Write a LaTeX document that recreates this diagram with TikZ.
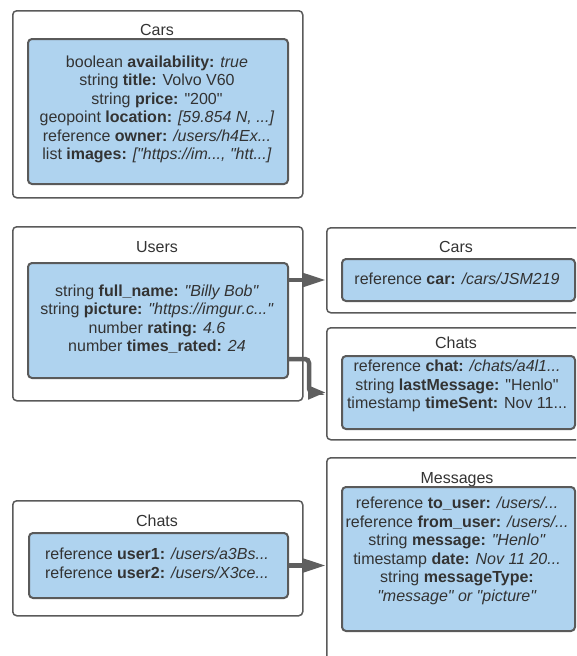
\documentclass[tikz,border=0pt]{standalone}
\usepackage{fontspec}
\setmainfont{Liberation Sans}[Ligatures=TeXOff]
\usetikzlibrary{arrows.meta}
\definecolor{boxline}{HTML}{5A5A5A}
\definecolor{bluefill}{HTML}{AFD3EF}
\definecolor{txt}{HTML}{333333}
\definecolor{arrowc}{HTML}{5F5F5F}
\begin{document}
\begin{tikzpicture}[x=1pt,y=-1pt,
  outerbox/.style={draw=boxline, line width=1.5pt, rounded corners=4pt, fill=white, anchor=north west, inner sep=0pt},
  innerbox/.style={draw=boxline, line width=2pt, rounded corners=4pt, fill=bluefill, anchor=north west, inner sep=0pt},
  boxtitle/.style={text=txt, font=\fontsize{16}{19}\selectfont, inner sep=0pt, text height=11.5pt, text depth=0pt},
  body/.style={text=txt, font=\fontsize{16}{18.5}\selectfont, align=center, inner sep=0pt},
  arr/.style={draw=arrowc, line width=4.5pt, -{Triangle[length=23pt,width=13pt]}},
  arrb/.style={draw=arrowc, line width=4.5pt, rounded corners=4pt, -{Triangle[length=18pt,width=13pt]}}]
\useasboundingbox (0,0) rectangle (576,656);
\begin{scope}
\clip (0,0) rectangle (576,656);
% --- Cars (top) ---
\node[outerbox, minimum width=290pt, minimum height=187pt] (carsOuter) at (12,10) {};
\node[boxtitle] (carsTitle) at (157,30) {Cars};
\node[innerbox, minimum width=260pt, minimum height=145pt] (carsBox) at (27,38) {};
\node[body] (carsText) at (157,109.5) {boolean \textbf{availability:} \textit{true}\\
string \textbf{title:} Volvo V60\\
string \textbf{price:} "200"\\
geopoint \textbf{location:} \textit{[59.854 N, ...]}\\
reference \textbf{owner:} \textit{/users/h4Ex...}\\
list \textbf{images:} \textit{["https://im..., "htt...]}};
% --- Users ---
\node[outerbox, minimum width=290pt, minimum height=174pt] (usersOuter) at (12,226) {};
\node[boxtitle] (usersTitle) at (157,247) {Users};
\node[innerbox, minimum width=260pt, minimum height=115pt] (usersBox) at (27,262) {};
\node[body] (usersText) at (157,319) {string \textbf{full\_name:} \textit{"Billy Bob"}\\
string \textbf{picture:} \textit{"https://imgur.c..."}\\
number \textbf{rating:} \textit{4.6}\\
number \textbf{times\_rated:} \textit{24}};
% --- Cars (reference) ---
\node[outerbox, minimum width=264pt, minimum height=85pt] (carRefOuter) at (326,227) {};
\node[boxtitle] (carRefTitle) at (456,247) {Cars};
\node[innerbox, minimum width=233pt, minimum height=42pt] (carRefBox) at (341,258) {};
\node[body] (carRefText) at (457,279) {reference \textbf{car:} \textit{/cars/JSM219}};
% --- Chats (reference) ---
\node[outerbox, minimum width=264pt, minimum height=112pt] (chatRefOuter) at (326,327) {};
\node[boxtitle] (chatRefTitle) at (456,343) {Chats};
\node[innerbox, minimum width=233pt, minimum height=73pt] (chatRefBox) at (341,355) {};
\node[body] (chatRefText) at (457,386) {reference \textbf{chat:} \textit{/chats/a4l1...}\\
string \textbf{lastMessage:} "Henlo"\\
timestamp \textbf{timeSent:} Nov 11...};
% --- Chats (bottom) ---
\node[outerbox, minimum width=290pt, minimum height=115pt] (chatsOuter) at (12,500) {};
\node[boxtitle] (chatsTitle) at (157,521) {Chats};
\node[innerbox, minimum width=259pt, minimum height=65pt] (chatsBox) at (28,532) {};
\node[body] (chatsText) at (157,563.5) {reference \textbf{user1:} \textit{/users/a3Bs...}\\
reference \textbf{user2:} \textit{/users/X3ce...}};
% --- Messages ---
\node[outerbox, minimum width=264pt, minimum height=230pt] (msgOuter) at (326,457) {};
\node[boxtitle] (msgTitle) at (457,478) {Messages};
\node[innerbox, minimum width=233pt, minimum height=144pt] (msgBox) at (341,486) {};
\node[body] (msgText) at (457,551) {reference \textbf{to\_user:} \textit{/users/...}\\
reference \textbf{from\_user:} \textit{/users/...}\\
string \textbf{message:} \textit{"Henlo"}\\
timestamp \textbf{date:} \textit{Nov 11 20...}\\
string \textbf{messageType:}\\
\textit{"message" or "picture"}};
% --- connectors ---
\draw[arr] (usersBox.east |- carRefBox.center) -- (carRefOuter.west |- carRefBox.center);
\draw[arrb] ([yshift=-38.5pt]usersBox.east) -- ++(20,0) |- (chatRefOuter.west |- chatRefBox.center);
\draw[arr] (chatsBox.east) -- (chatsBox.east -| msgOuter.west);
\end{scope}
\end{tikzpicture}
\end{document}
